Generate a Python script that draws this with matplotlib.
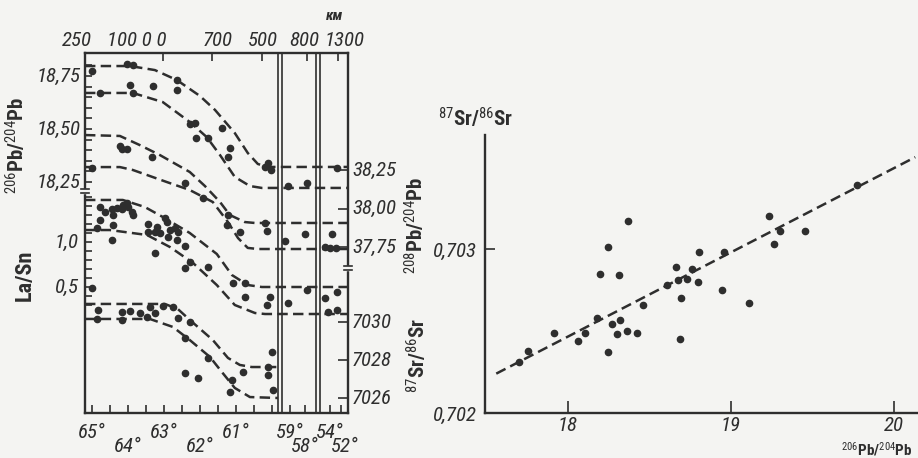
import numpy as np
import matplotlib.pyplot as plt
from matplotlib import font_manager

INK = '#2e2e2e'
PAPER = '#f4f4f2'

# narrow face if one is installed, plain Liberation Sans otherwise
names = {f.name for f in font_manager.fontManager.ttflist}
FONT = 'Liberation Sans'
for cand in ('Liberation Sans Narrow', 'DejaVu Sans Condensed', 'Roboto Condensed',
             'Open Sans Condensed'):
    if cand in names:
        FONT = cand
        break
plt.rcParams['font.family'] = [FONT, 'DejaVu Sans']
plt.rcParams['mathtext.fontset'] = 'custom'
plt.rcParams['mathtext.rm'] = FONT
plt.rcParams['mathtext.it'] = FONT + ':italic'
plt.rcParams['lines.scale_dashes'] = False

# ---- profile along the ridge (left panel) ----
# latitude -> position on the panel, with two broken segments to the south
LAT_KNOTS = [65.19, 59.83, 59.53, 57.27, 55.33, 51.6]
POS_KNOTS = [0, 193, 197, 231, 235, 263]


def lat_x(lat):
    return np.interp(-np.asarray(lat, float), -np.array(LAT_KNOTS), POS_KNOTS)


# stacked vertical scales, panel units counted from the top frame
def pb206_y(v):
    return 23 + (18.75 - np.asarray(v, float)) * 212


def lasn_y(v):
    return 189 + (1.0 - np.asarray(v, float)) * 90


def pb208_y(v):
    return 117 + (38.25 - np.asarray(v, float)) * 154


def sr_y(v):
    return 269 + (7030 - np.asarray(v, float)) * 19


# envelope curves (upper / lower) for each ratio
pb206_up_lat = [65.19, 63.94, 63.25, 62.64, 62.0, 61.58, 61.03, 60.67, 60.39, 60.11, 51.6]
pb206_up_val = [18.797, 18.797, 18.778, 18.731, 18.656, 18.590, 18.481, 18.387, 18.335, 18.321, 18.321]
pb206_lo_lat = [65.19, 63.86, 63.03, 62.28, 61.81, 61.44, 61.03, 60.61, 60.28, 51.6]
pb206_lo_val = [18.670, 18.670, 18.627, 18.533, 18.462, 18.377, 18.274, 18.231, 18.222, 18.222]

pb208_up_lat = [65.19, 64.22, 63.67, 63.11, 62.28, 61.86, 61.44, 61.17, 60.75, 60.47, 51.6]
pb208_up_val = [38.477, 38.471, 38.412, 38.347, 38.237, 38.146, 38.042, 37.958, 37.912, 37.906, 37.906]
pb208_lo_lat = [65.19, 64.22, 63.86, 63.39, 62.92, 62.28, 61.64, 61.22, 60.94, 60.67, 60.39, 51.6]
pb208_lo_val = [38.269, 38.269, 38.25, 38.211, 38.172, 38.120, 38.042, 37.912, 37.808, 37.744, 37.737, 37.737]

lasn_up_lat = [65.19, 64.14, 63.53, 63.03, 62.28, 61.53, 61.11, 60.67, 60.28, 51.6]
lasn_up_val = [1.467, 1.467, 1.389, 1.278, 1.10, 0.867, 0.633, 0.522, 0.50, 0.50]
lasn_lo_lat = [65.19, 64.5, 63.47, 62.83, 62.19, 61.53, 61.03, 60.47, 60.19, 51.6]
lasn_lo_val = [1.133, 1.133, 1.078, 0.944, 0.767, 0.522, 0.30, 0.211, 0.20, 0.20]

sr_up_lat = [65.19, 62.97, 62.61, 62.28, 61.64, 61.22, 60.89, 60.56, 59.83]
sr_up_val = [7030.95, 7030.95, 7030.68, 7030.11, 7029.05, 7028.11, 7027.74, 7027.63, 7027.63]
sr_lo_lat = [65.19, 63.39, 62.75, 62.28, 61.72, 61.39, 61.03, 60.61, 59.83]
sr_lo_val = [7030.16, 7030.16, 7029.74, 7029.05, 7028.16, 7027.37, 7026.53, 7026.05, 7026.0]

# samples
pb206_lat = [65.0, 64.03, 63.86, 63.94, 63.31, 62.64, 62.64, 64.78, 63.86, 62.28, 62.14,
             62.11, 61.78, 61.39, 61.17, 61.22, 60.19, 60.11, 60.03, 59.13, 57.87, 53.07]
pb206_val = [18.774, 18.807, 18.802, 18.708, 18.703, 18.731, 18.684, 18.670, 18.670, 18.524, 18.528,
             18.458, 18.458, 18.505, 18.410, 18.368, 18.321, 18.340, 18.307, 18.231, 18.245, 18.316]

pb208_lat = [64.22, 64.17, 64.03, 63.33, 65.0, 62.42, 61.92, 61.22, 61.25, 60.89, 60.19,
             60.14, 59.33, 58.0, 53.73, 54.67, 54.0, 53.2]
pb208_val = [38.406, 38.386, 38.386, 38.334, 38.263, 38.166, 38.068, 37.958, 37.893, 37.847, 37.906,
             37.854, 37.789, 37.834, 37.834, 37.75, 37.744, 37.744]

lasn_lat = [64.78, 64.64, 64.44, 64.42, 64.31, 64.17, 64.03, 64.0, 63.89, 63.86, 64.14, 64.78,
            64.42, 64.86, 64.44, 63.44, 63.44, 63.25, 63.19, 63.11, 62.97, 62.92, 62.83, 62.89,
            62.69, 62.64, 62.61, 63.25, 62.42, 62.42, 62.28, 61.78, 65.0, 61.08, 60.75, 60.75,
            60.14, 60.06, 59.13, 57.87, 54.67, 53.07, 54.27, 53.07]
lasn_val = [1.389, 1.333, 1.367, 1.30, 1.378, 1.367, 1.433, 1.389, 1.333, 1.30, 1.411, 1.244,
            1.189, 1.156, 1.022, 1.20, 1.111, 1.111, 1.167, 1.10, 1.267, 1.222, 1.133, 1.056,
            1.156, 1.022, 1.111, 0.878, 0.956, 0.711, 0.778, 0.722, 0.489, 0.544, 0.544, 0.389,
            0.30, 0.389, 0.322, 0.467, 0.378, 0.444, 0.222, 0.244]

sr_lat = [64.83, 64.17, 63.94, 63.67, 63.39, 63.25, 63.03, 62.75, 62.61, 64.86, 64.17, 63.47,
          62.28, 62.42, 61.78, 62.42, 62.06, 60.0, 60.81, 60.11, 60.11, 61.11, 61.17, 59.97]
sr_val = [7030.63, 7030.53, 7030.58, 7030.47, 7030.79, 7030.47, 7030.84, 7030.79, 7030.21,
          7030.16, 7030.11, 7030.26, 7030.0, 7029.16, 7028.11, 7027.32, 7027.05, 7028.42,
          7027.37, 7027.63, 7027.21, 7026.95, 7026.32, 7026.42]

# ---- Sr vs Pb (right panel) ----
pb_ratio = [18.37, 18.247, 18.196, 18.313, 19.235, 19.454, 19.264, 19.30, 19.771, 18.806,
            18.957, 18.663, 18.761, 18.80, 18.945, 19.108, 18.693, 18.687, 18.458, 18.605,
            18.677, 18.728, 18.18, 18.268, 18.319, 18.30, 18.362, 18.423, 18.243, 18.104,
            18.06, 17.916, 17.756, 17.70]
sr_ratio = [0.70317, 0.70301, 0.70285, 0.70284, 0.70320, 0.70311, 0.70303, 0.70311, 0.70339,
            0.70298, 0.70298, 0.70289, 0.70288, 0.70280, 0.70275, 0.70267, 0.70270, 0.70245,
            0.70266, 0.70278, 0.70281, 0.70282, 0.70258, 0.70254, 0.70257, 0.70248, 0.70250,
            0.70249, 0.70237, 0.70249, 0.70244, 0.70249, 0.70238, 0.70231]
fit_x = [17.56, 20.13]
fit_y = [0.70224, 0.70356]

W, H = 918, 458
fig = plt.figure(figsize=(W / 100, H / 100), dpi=100, facecolor=PAPER)

dash = dict(color=INK, lw=1.8, linestyle=(0, (7.5, 3.8)))
dot = dict(color=INK, marker='o', ms=4.5, linestyle='none')
tfont = dict(fontsize=15, style='italic', color=INK)
lfont = dict(fontsize=15, weight='semibold', color=INK)

# left panel
ax = fig.add_axes([85 / W, 45 / H, 263 / W, 360 / H])
ax.set_facecolor(PAPER)
ax.set_xlim(0, 263)
ax.set_ylim(360, 0)
for s in ax.spines.values():
    s.set_linewidth(1.7)
    s.set_color(INK)

curves = [(pb206_up_lat, pb206_y(pb206_up_val)), (pb206_lo_lat, pb206_y(pb206_lo_val)),
          (pb208_up_lat, pb208_y(pb208_up_val)), (pb208_lo_lat, pb208_y(pb208_lo_val)),
          (lasn_up_lat, lasn_y(lasn_up_val)), (lasn_lo_lat, lasn_y(lasn_lo_val)),
          (sr_up_lat, sr_y(sr_up_val)), (sr_lo_lat, sr_y(sr_lo_val))]
for la, yy in curves:
    ax.plot(lat_x(la), yy, **dash)

ax.plot(lat_x(pb206_lat), pb206_y(pb206_val), **dot)
ax.plot(lat_x(pb208_lat), pb208_y(pb208_val), **dot)
ax.plot(lat_x(lasn_lat), lasn_y(lasn_val), **dot)
ax.plot(lat_x(sr_lat), sr_y(sr_val), **dot)

# double lines at the breaks of the profile
for xb in POS_KNOTS[1:5]:
    ax.axvline(xb, color=INK, lw=1.2)

# left ticks: 206Pb/204Pb above the break, La/Sn below
pb_ticks = np.round(np.arange(18.25, 18.801, 0.05), 2)
la_ticks = np.round(np.arange(0.3, 1.501, 0.1), 1)
ax.set_yticks(np.concatenate([pb206_y(pb_ticks), lasn_y(la_ticks)]), [])
ax.set_yticks(np.concatenate([pb206_y([18.75, 18.5, 18.25]), lasn_y([1.0, 0.5])]), minor=True)
ax.tick_params(axis='y', which='both', direction='in', left=True, right=False,
               length=5, width=1.2, color=INK)
ax.tick_params(axis='y', which='minor', length=8)

lat_ticks = [65, 64.5, 64, 63.5, 63, 62.5, 62, 61.5, 61, 60.5, 60, 59, 58, 54, 52.5]
ax.set_xticks(lat_x(lat_ticks), [])
ax.tick_params(axis='x', direction='in', length=6, width=1.2, color=INK, bottom=True, top=False)

axr = ax.twinx()
axr.set_ylim(360, 0)
axr.set_yticks(np.concatenate([pb208_y([38.25, 38.0, 37.75]), sr_y([7030, 7028, 7026])]), [])
axr.tick_params(direction='in', length=7, width=1.2, color=INK)
for s in axr.spines.values():
    s.set_visible(False)

axt = ax.twiny()
axt.set_xlim(0, 263)
axt.set_xticks([78, 127, 177, 222, 253], [])
axt.tick_params(direction='in', length=6, width=1.2, color=INK)
for s in axt.spines.values():
    s.set_visible(False)

# axis breaks
for x0, yb in ((0, 138), (263, 215)):
    ax.fill_between([x0 - 4, x0 + 4], yb - 2, yb + 2, color=PAPER, clip_on=False, zorder=5)
    for d in (-2, 2):
        ax.plot([x0 - 4, x0 + 4], [yb + d, yb + d], color=INK, lw=1.2, clip_on=False, zorder=6)

for v, lab in ((18.75, '18,75'), (18.5, '18,50'), (18.25, '18,25')):
    ax.text(-4, pb206_y(v), lab, ha='right', va='center', **tfont)
for v, lab in ((1.0, '1,0'), (0.5, '0,5')):
    ax.text(-6, lasn_y(v), lab, ha='right', va='center', **tfont)
for v, lab in ((38.25, '38,25'), (38.0, '38,00'), (37.75, '37,75')):
    ax.text(267, pb208_y(v), lab, ha='left', va='center', **tfont)
for v in (7030, 7028, 7026):
    ax.text(267, sr_y(v), str(v), ha='left', va='center', **tfont)

row1 = [(65, '65°'), (63, '63°'), (61, '61°'), (59, '59°'), (54, '54°')]
row2 = [(64, '64°'), (62, '62°'), (58, '58°'), (52, '52°')]
for la, lab in row1:
    ax.text(lat_x(la), 379, lab, ha='center', va='center', **tfont)
for la, lab in row2:
    ax.text(lat_x(la), 394, lab, ha='center', va='center', **tfont)

top_labels = [(-8, '250'), (52, '100 0 0'), (133, '700'), (178, '500'), (219, '800'), (260, '1300')]
for xt, lab in top_labels:
    ax.text(xt, -13, lab, ha='center', va='center', **tfont)
ax.text(250, -37, 'км', ha='center', va='center', fontsize=11, style='italic',
        weight='bold', color=INK)

fig.text(16 / W, 1 - 145 / H, r'$^{206}$Pb/$^{204}$Pb', rotation=90, ha='center',
         va='center', **lfont)
fig.text(25 / W, 1 - 275 / H, 'La/Sn', rotation=90, ha='center', va='center',
         fontsize=16, weight='semibold', color=INK)
fig.text(415 / W, 1 - 225 / H, r'$^{208}$Pb/$^{204}$Pb', rotation=90, ha='center',
         va='center', **lfont)
fig.text(417 / W, 1 - 355 / H, r'$^{87}$Sr/$^{86}$Sr', rotation=90, ha='center',
         va='center', **lfont)

# right panel
ax2 = fig.add_axes([485 / W, 45 / H, 433 / W, 278 / H])
ax2.set_facecolor(PAPER)
ax2.set_xlim(17.491, 20.147)
ax2.set_ylim(0.702, 0.703695)
ax2.spines['top'].set_visible(False)
ax2.spines['right'].set_visible(False)
for side in ('left', 'bottom'):
    ax2.spines[side].set_linewidth(1.7)
    ax2.spines[side].set_color(INK)
ax2.plot(fit_x, fit_y, **dash)
ax2.plot(pb_ratio, sr_ratio, **dot)
ax2.set_xticks([18, 19, 20], ['18', '19', '20'], **tfont)
ax2.set_yticks([0.702, 0.703], ['0,702', '0,703'], **tfont)
ax2.tick_params(axis='x', direction='in', length=9, width=1.2, color=INK, pad=2)
ax2.tick_params(axis='y', direction='in', length=7, width=1.2, color=INK, pad=6)

fig.text(913 / W, 1 - 449 / H, r'$^{206}$Pb/$^{204}$Pb', ha='right', va='center',
         fontsize=11, weight='semibold', color=INK)
fig.text(438 / W, 1 - 118 / H, r'$^{87}$Sr/$^{86}$Sr', ha='left', va='center', **lfont)

fig.savefig('out.png', dpi=100, facecolor=PAPER)
